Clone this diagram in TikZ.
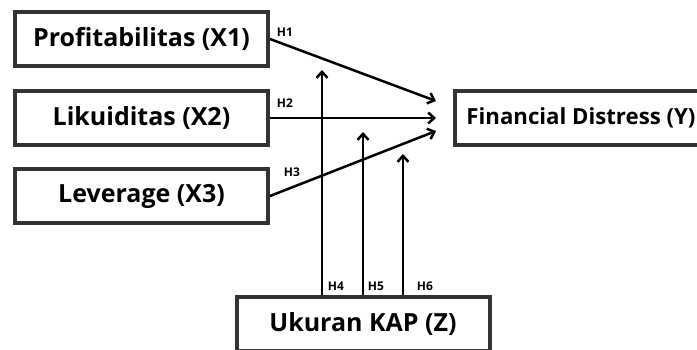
\documentclass[tikz,border=0pt]{standalone}
\usepackage{fontspec}
\setmainfont{Open Sans}
\definecolor{boxgray}{HTML}{333333}
\usetikzlibrary{arrows.meta, positioning, calc}

\begin{document}
\begin{tikzpicture}[
    x=1pt, y=-1pt,
    block/.style={rectangle, draw=boxgray, fill=white, minimum width=253pt, minimum height=54pt, align=center, font=\fontsize{25}{28}\selectfont\bfseries, line width=4pt},
    arr/.style={-{Straight Barb[length=6pt, width=11pt, line width=2.5pt]}, line width=2.5pt},
    lbl/.style={font=\fontsize{12}{13}\selectfont\bfseries, inner sep=1pt},
]
    \useasboundingbox (0,0) rectangle (697,349);
    \clip (0,0) rectangle (697,349);

    % independent variables
    \node[block] (x1) at (141.5,39) {Profitabilitas (X1)};
    \node[block] (x2) at (141.5,118) {Likuiditas (X2)};
    \node[block] (x3) at (141.5,196) {Leverage (X3)};
    % dependent and moderating variables
    \node[block, minimum width=252pt, font=\fontsize{22.2}{26}\selectfont\bfseries] (y) at (581,118) {Financial Distress (Y)};
    \node[block] (z) at (363,324) {Ukuran KAP (Z)};

    % arrow ends
    \coordinate (in1) at ([xshift=-17pt, yshift=17pt]y.west);
    \coordinate (in2) at ([xshift=-17pt]y.west);
    \coordinate (in3) at ([xshift=-17pt, yshift=-13pt]y.west);
    \coordinate (m4) at (322,70);
    \coordinate (m5) at (363,132);
    \coordinate (m6) at (403,154);

    \draw[arr] (x1.east) -- (in1);
    \draw[arr] (x2.east) -- (in2);
    \draw[arr] (x3.east) -- (in3);
    \draw[arr] (z.north -| m4) -- (m4);
    \draw[arr] (z.north -| m5) -- (m5);
    \draw[arr] (z.north -| m6) -- (m6);

    \node[lbl] (h1) at (285,32) {H1};
    \node[lbl] (h2) at (285,103) {H2};
    \node[lbl] (h3) at (292,172) {H3};
    \node[lbl] (h4) at (336,286) {H4};
    \node[lbl] (h5) at (376,286) {H5};
    \node[lbl] (h6) at (425,286) {H6};
\end{tikzpicture}
\end{document}
